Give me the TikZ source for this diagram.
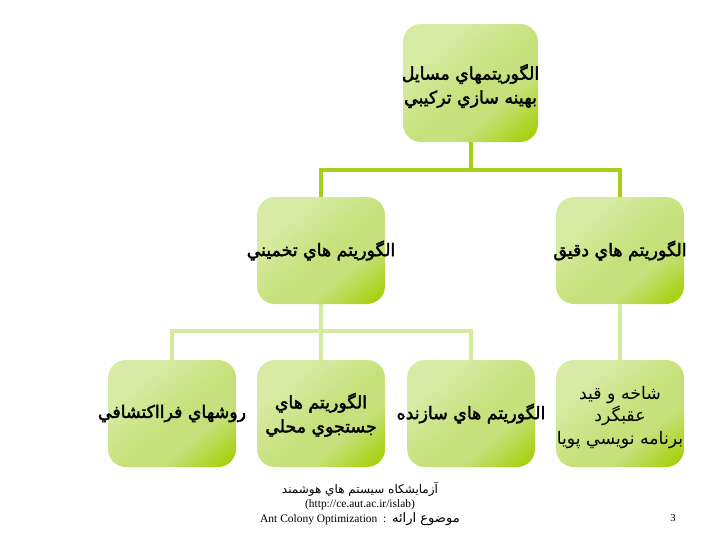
\documentclass[tikz,border=0pt]{standalone}
\usepackage{fontspec}
\newfontfamily\arabicfont[Script=Arabic]{DejaVu Sans}
\newfontfamily\arabicbold[Script=Arabic,FakeBold=2.2]{DejaVu Sans}
\newfontfamily\latinfont{Liberation Serif}
\TeXXeTstate=1
\newcommand{\fa}[1]{{\arabicfont\beginR #1\endR}}
\newcommand{\fb}[1]{{\arabicbold\beginR #1\endR}}
\definecolor{linedark}{HTML}{A6CF1A}
\definecolor{linepale}{HTML}{D6E9A0}
\definecolor{boxlight}{HTML}{D8EBA4}
\definecolor{boxmid}{HTML}{C6E17C}
\definecolor{boxdeep}{HTML}{A6D00C}
\pgfdeclareverticalshading{leafshade}{100bp}{color(0bp)=(boxlight); color(30bp)=(boxlight);
  color(52bp)=(boxmid); color(64bp)=(boxmid); color(82bp)=(boxdeep); color(100bp)=(boxdeep)}
\tikzset{
  algbox/.style={rounded corners=13.5pt,shading=leafshade,shading angle=220,minimum width=96pt,minimum height=80.25pt,inner sep=0pt},
  rootbox/.style={algbox,minimum width=101.25pt,minimum height=88.5pt},
  algtext/.style={font=\fontsize{13}{18}\selectfont,align=center,inner sep=0pt},
  plaintext/.style={font=\fontsize{13}{16.9}\selectfont,align=center,inner sep=0pt},
  darkline/.style={draw=linedark,line width=3pt},
  paleline/.style={draw=linepale,line width=3pt},
  footnote/.style={font=\fontsize{9}{10.9}\selectfont,align=center,inner sep=0pt},
  pagenote/.style={font=\fontsize{8}{10}\selectfont,inner sep=0pt}
}
\begin{document}
\begin{tikzpicture}[x=0.75pt,y=-0.75pt]
\useasboundingbox (0,0) rectangle (720,540);

% Bus points
\coordinate (topbus) at (470.5,170);
\coordinate (lowbus) at (321,331);

% Boxes
\node[rootbox] (rootalg) at (470.5,83) {};
\node[algbox] (approx) at (321,250.5) {};
\node[algbox] (exact) at (620,250.5) {};
\node[algbox] (meta) at (172,413.5) {};
\node[algbox] (locals) at (321,413.5) {};
\node[algbox] (constr) at (471,413.5) {};
\node[algbox] (branch) at (620,413.5) {};

% Connectors
\draw[darkline] (rootalg.south) -- (topbus);
\draw[darkline] (topbus) -| (approx.north);
\draw[darkline] (topbus) -| (exact.north);
\draw[paleline] (approx.south) -- (lowbus);
\draw[paleline] (lowbus) -| (meta.north);
\draw[paleline] (lowbus) -- (locals.north);
\draw[paleline] (lowbus) -| (constr.north);
\draw[paleline] (exact.south) -- (branch.north);

% Labels
\node[algtext] (roottext) at ([yshift=-2.2pt]rootalg.center) {\fb{الگوريتمهاي مسايل}\\\fb{بهينه سازي تركيبي}};
\node[algtext] (approxtext) at (approx.center) {\fb{الگوريتم هاي تخميني}};
\node[algtext] (exacttext) at (exact.center) {\fb{الگوريتم هاي دقيق}};
\node[algtext] (metatext) at (meta.center) {\fb{روشهاي فرااكتشافي}};
\node[algtext] (localstext) at ([yshift=-1pt]locals.center) {\fb{الگوريتم هاي}\\\fb{جستجوي محلي}};
\node[algtext] (constrtext) at (constr.center) {\fb{الگوريتم هاي سازنده}};
\node[plaintext] (branchtext) at ([yshift=-3pt]branch.center) {\fa{شاخه و قيد}\\\fa{عقبگرد}\\\fa{برنامه نويسي پويا}};

% Footer
\node[footnote] (lab) at (360,503.5) {\fa{آزمايشكاه سيستم هاي هوشمند}\\{\latinfont\fontsize{8.6}{10.9}\selectfont (http://ce.aut.ac.ir/islab)}\\{\latinfont\fontsize{8.6}{10.9}\selectfont Ant Colony Optimization\ \ :\ \ }{\fontsize{9.8}{10.9}\selectfont\fa{موضوع ارائه}}};
\node[pagenote] (pagenum) at (673,518) {\latinfont 3};
\end{tikzpicture}
\end{document}
